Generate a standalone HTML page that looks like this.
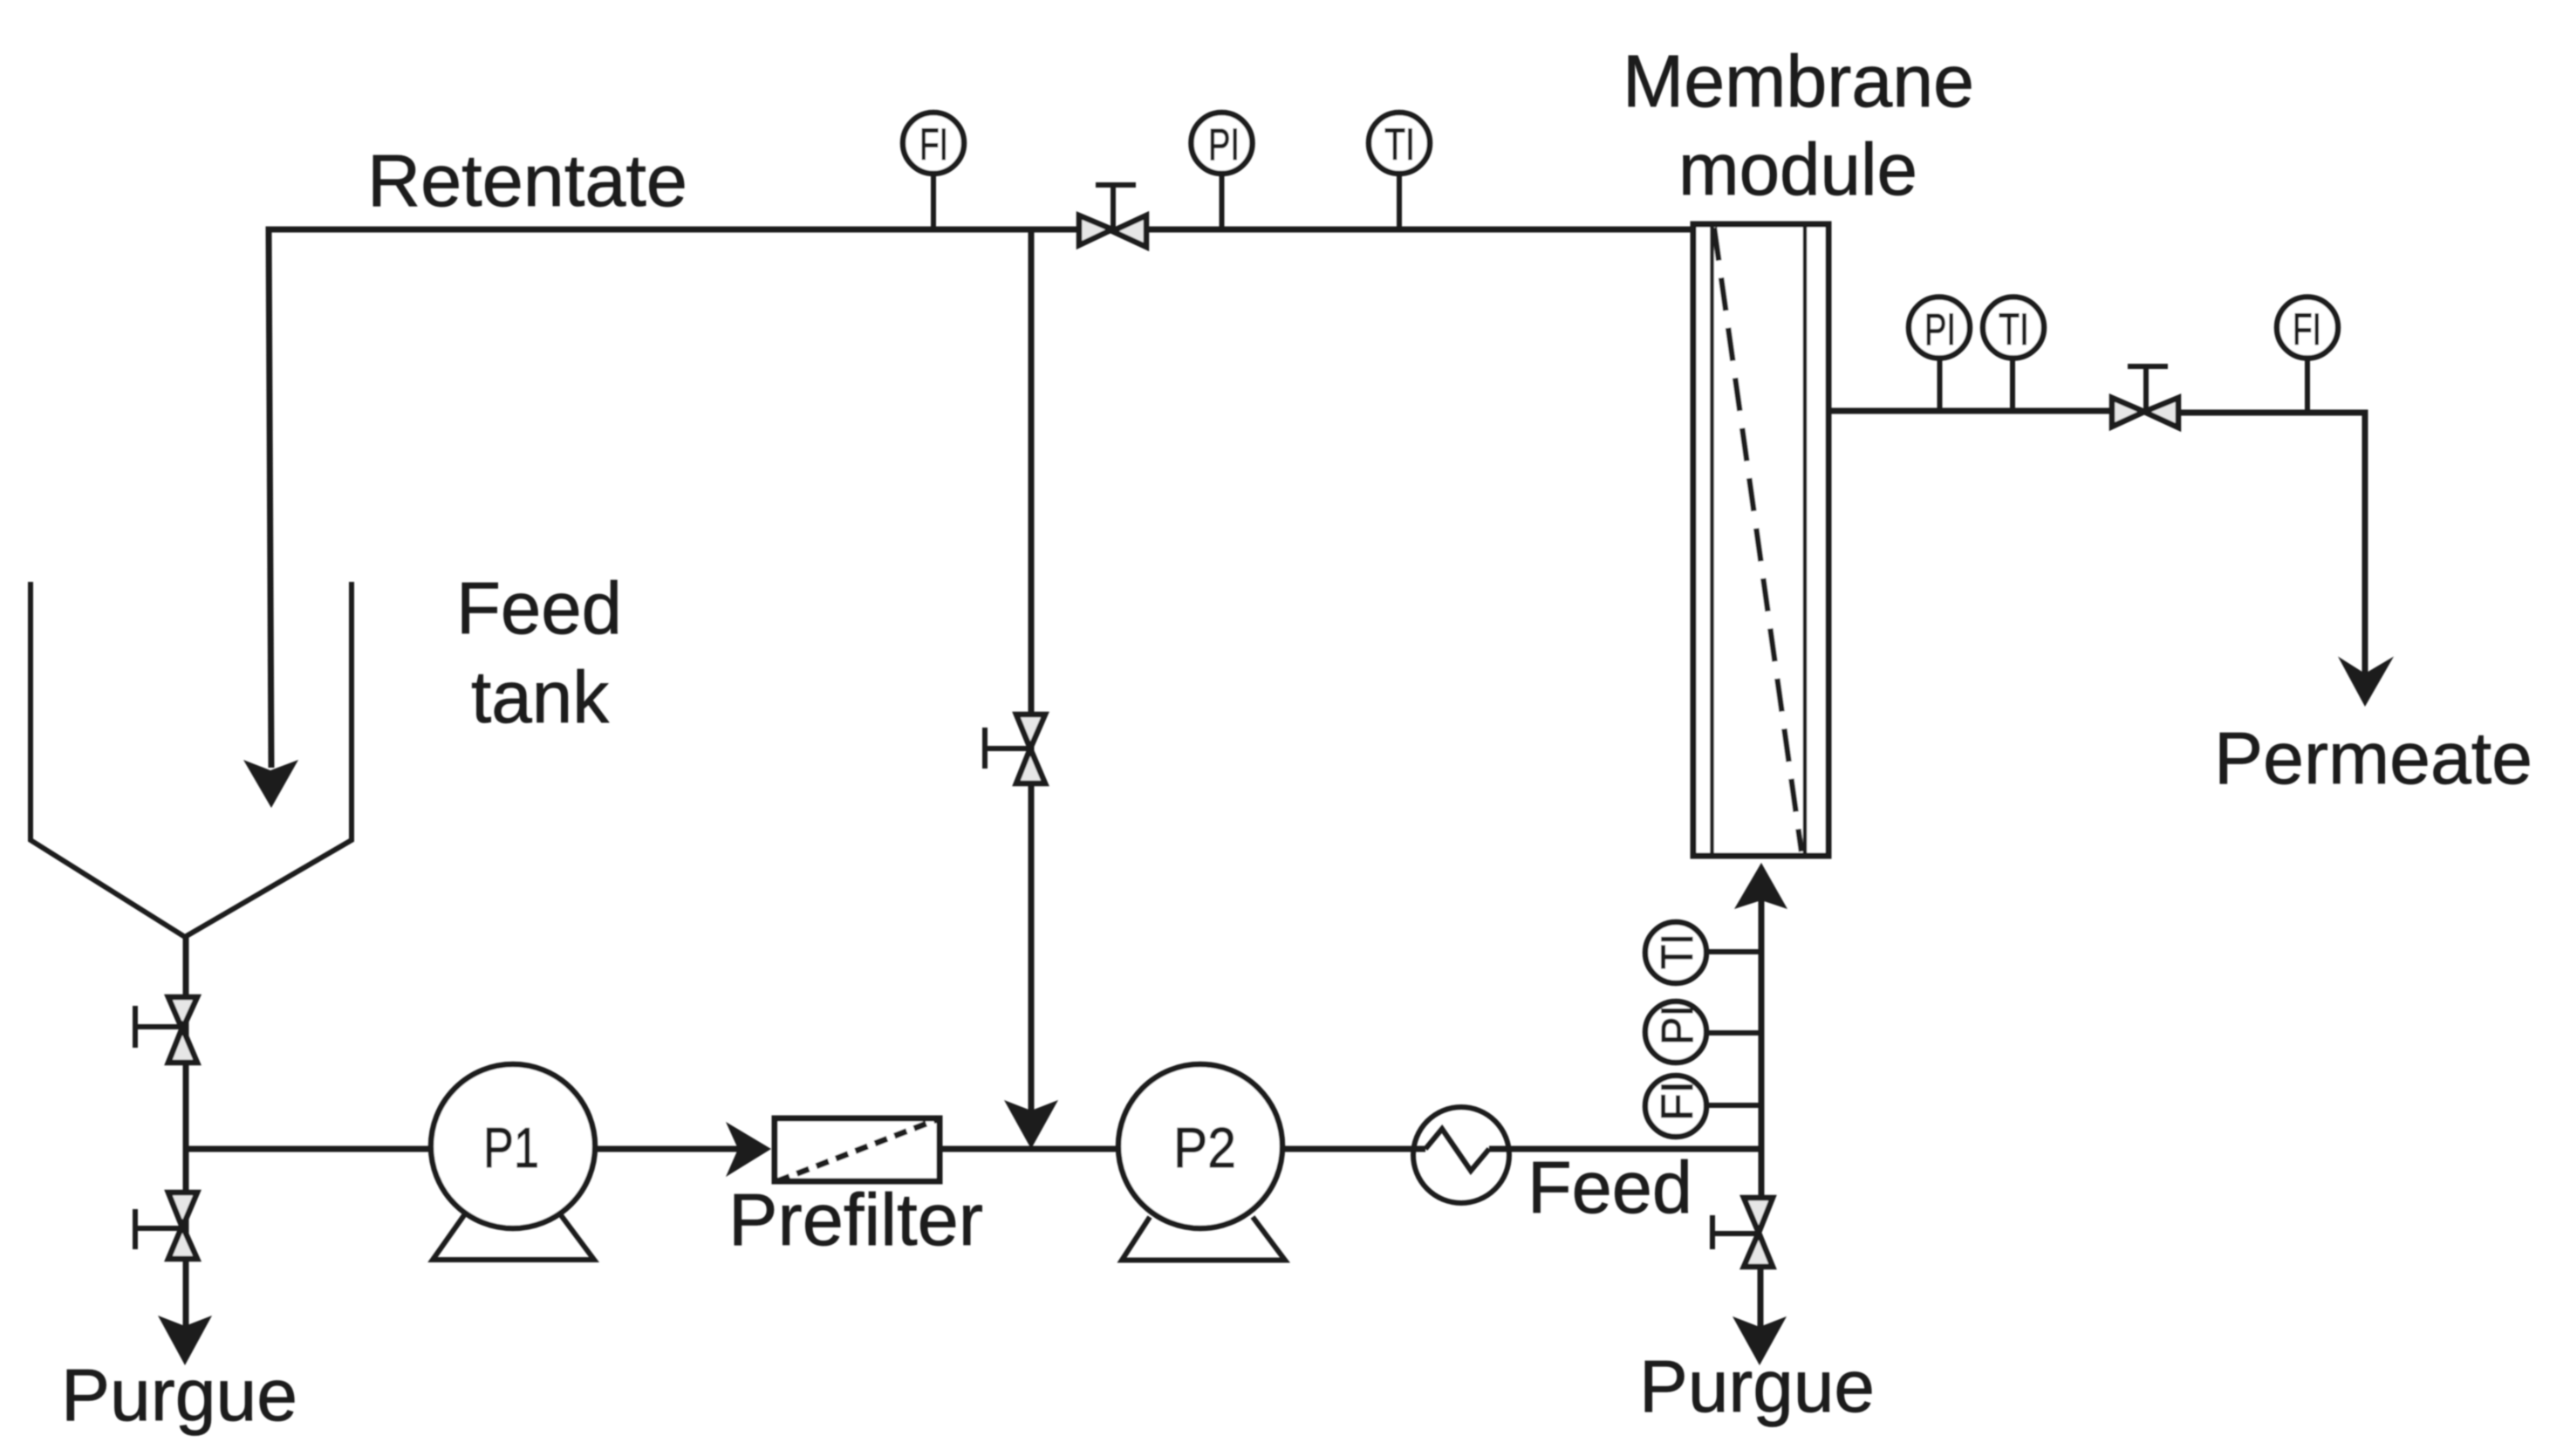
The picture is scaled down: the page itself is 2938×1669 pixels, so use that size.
<!DOCTYPE html>
<html>
<head>
<meta charset="utf-8">
<style>
html,body{margin:0;padding:0;background:#fff;width:2938px;height:1669px;overflow:hidden}
svg{display:block}
text{font-family:"Liberation Sans",Arial,sans-serif;fill:#1a1a1a;stroke:#1a1a1a}
.l{font-size:84px;stroke-width:.7px}
.i{font-size:51px;stroke-width:1.1px}
.p{font-size:65px;stroke-width:1px}
</style>
</head>
<body>
<svg width="2938" height="1669" viewBox="0 0 2938 1669" xmlns="http://www.w3.org/2000/svg">
<defs><filter id="b" x="-2%" y="-2%" width="104%" height="104%"><feGaussianBlur stdDeviation="0.7"/></filter></defs>
<rect width="2938" height="1669" fill="#fff"/>
<g filter="url(#b)">
<g fill="none" stroke="#1a1a1a" stroke-width="7">
  <!-- pipes -->
  <path d="M1940 263H308L311 880"/>
  <path d="M1182 263V1280"/>
  <path d="M213 1074V1525M213 1317H493M682 1317H850M1079 1317H1281M1471 1317H1634M1707 1317H2019"/>
  <path d="M2019 1030V1372M2018 1454V1525"/>
  <path d="M2098 471H2430M2490 473H2711V775"/>
  <!-- tank -->
  <path d="M35 667V963L212 1074L403 963V667" stroke-width="6"/>
  <!-- instrument stems -->
  <path d="M1070 201V263M1400.500 201V263M1604 201V263M2223.500 412V471M2307 412V471M2645 412V473M1958 1091H2019M1958 1184H2019M1958 1267H2019" stroke-width="6"/>
  <!-- circles -->
  <g stroke-width="6.500" fill="#fff">
    <circle cx="1070" cy="164" r="35"/>
    <circle cx="1400.500" cy="164" r="35"/>
    <circle cx="1604" cy="164" r="35"/>
    <circle cx="2223" cy="375.500" r="35"/>
    <circle cx="2308" cy="375.500" r="35"/>
    <circle cx="2645" cy="375.500" r="35"/>
    <circle cx="1921" cy="1092" r="35"/>
    <circle cx="1921" cy="1183" r="35"/>
    <circle cx="1921" cy="1268" r="35"/>
  </g>
  <!-- pumps -->
  <path d="M532 1393L496 1444H681L643 1393" stroke-width="6"/>
  <path d="M1318 1395L1286 1444.500H1473L1436 1395" stroke-width="6"/>
  <circle cx="588" cy="1314" r="94" stroke-width="6.500" fill="#fff"/>
  <circle cx="1376" cy="1314" r="94" stroke-width="6.500" fill="#fff"/>
  <!-- prefilter -->
  <rect x="888" y="1282" width="189" height="72" fill="#fff"/>
  <path d="M891 1354L1075 1283" stroke-dasharray="15 9" stroke-width="7"/>
  <!-- heat exchanger -->
  <circle cx="1675" cy="1324" r="55" stroke-width="6"/>
  <path d="M1634 1317L1653 1294L1686 1342L1707 1317" stroke-width="6"/>
  <!-- membrane module -->
  <rect x="1941" y="257" width="155" height="724" fill="#fff" stroke-width="7"/>
  <path d="M1962.500 257V981M2069 257V981" stroke-width="4.500"/>
  <path d="M1965 261L2065 976" stroke-width="6.500" stroke-dasharray="38 20"/>
</g>

<!-- arrowheads -->
<g fill="#1a1a1a">
  <path d="M311 926L279 871L310 883L342 871Z"/>
  <path d="M1182 1317L1151 1261L1182 1273L1213 1261Z"/>
  <path d="M884 1317L832 1286L846 1317L832 1349Z"/>
  <path d="M212 1565L181 1508L212 1520L243 1508Z"/>
  <path d="M2017 1565L1986 1509L2017 1521L2048 1509Z"/>
  <path d="M2019 989L1988 1042L2019 1032L2049 1042Z"/>
  <path d="M2711 810L2680 752.500L2711 772L2744 752.500Z"/>
</g>

<!-- valves -->
<g stroke="#1a1a1a" stroke-width="6.500" fill="#e6e6e6">
  <path d="M1237 247L1275 263L1237 281Z"/>
  <path d="M1314 247L1275 265L1314 283Z"/>
  <path d="M2421 456L2458 472L2421 489Z"/>
  <path d="M2497 456L2458 472L2497 490Z"/>
  <path d="M193 1143H226L209 1180Z"/>
  <path d="M193 1218H226L209 1178Z"/>
  <path d="M193 1367H226L209 1407Z"/>
  <path d="M193 1443H226L209 1405Z"/>
  <path d="M1165 819H1198L1181 858Z"/>
  <path d="M1165 898H1198L1181 858Z"/>
  <path d="M1999 1373H2032L2016 1413Z"/>
  <path d="M1999 1452H2032L2016 1413Z"/>
</g>
<g stroke="#1a1a1a" fill="none" stroke-width="6">
  <path d="M1276 262V212M1256 212H1302"/>
  <path d="M2460 470V420M2439 420H2485"/>
  <path d="M208 1177H155M155 1153V1201"/>
  <path d="M208 1408H155M155 1386V1432"/>
  <path d="M1180 858H1129M1129 834V881"/>
  <path d="M2015 1414H1963M1963 1393V1432"/>
</g>

<!-- labels -->
<text class="l" x="421" y="236" textLength="367" lengthAdjust="spacingAndGlyphs">Retentate</text>
<text class="l" x="1860" y="122" textLength="403" lengthAdjust="spacingAndGlyphs">Membrane</text>
<text class="l" x="1924" y="223" textLength="274" lengthAdjust="spacingAndGlyphs">module</text>
<text class="l" x="523" y="726" textLength="190" lengthAdjust="spacingAndGlyphs">Feed</text>
<text class="l" x="540" y="828" textLength="158" lengthAdjust="spacingAndGlyphs">tank</text>
<text class="l" x="2538" y="898" textLength="365" lengthAdjust="spacingAndGlyphs">Permeate</text>
<text class="l" x="835" y="1427" textLength="292" lengthAdjust="spacingAndGlyphs">Prefilter</text>
<text class="l" x="1751" y="1390" textLength="189" lengthAdjust="spacingAndGlyphs">Feed</text>
<text class="l" x="70" y="1628" textLength="271" lengthAdjust="spacingAndGlyphs">Purgue</text>
<text class="l" x="1879" y="1618" textLength="270" lengthAdjust="spacingAndGlyphs">Purgue</text>

<text class="p" x="554" y="1338" textLength="64" lengthAdjust="spacingAndGlyphs">P1</text>
<text class="p" x="1345" y="1338" textLength="72" lengthAdjust="spacingAndGlyphs">P2</text>

<text class="i" x="1054" y="183" textLength="33" lengthAdjust="spacingAndGlyphs">FI</text>
<text class="i" x="1385" y="183" textLength="36" lengthAdjust="spacingAndGlyphs">PI</text>
<text class="i" x="1587" y="183" textLength="35" lengthAdjust="spacingAndGlyphs">TI</text>
<text class="i" x="2206" y="395" textLength="36" lengthAdjust="spacingAndGlyphs">PI</text>
<text class="i" x="2291" y="395" textLength="35" lengthAdjust="spacingAndGlyphs">TI</text>
<text class="i" x="2628" y="395" textLength="33" lengthAdjust="spacingAndGlyphs">FI</text>
<text class="i" transform="translate(1940 1111) rotate(-90)" textLength="41" lengthAdjust="spacingAndGlyphs">TI</text>
<text class="i" transform="translate(1940 1198) rotate(-90)" textLength="46" lengthAdjust="spacingAndGlyphs">PI</text>
<text class="i" transform="translate(1940 1285) rotate(-90)" textLength="46" lengthAdjust="spacingAndGlyphs">FI</text>
</g>
</svg>
</body>
</html>
